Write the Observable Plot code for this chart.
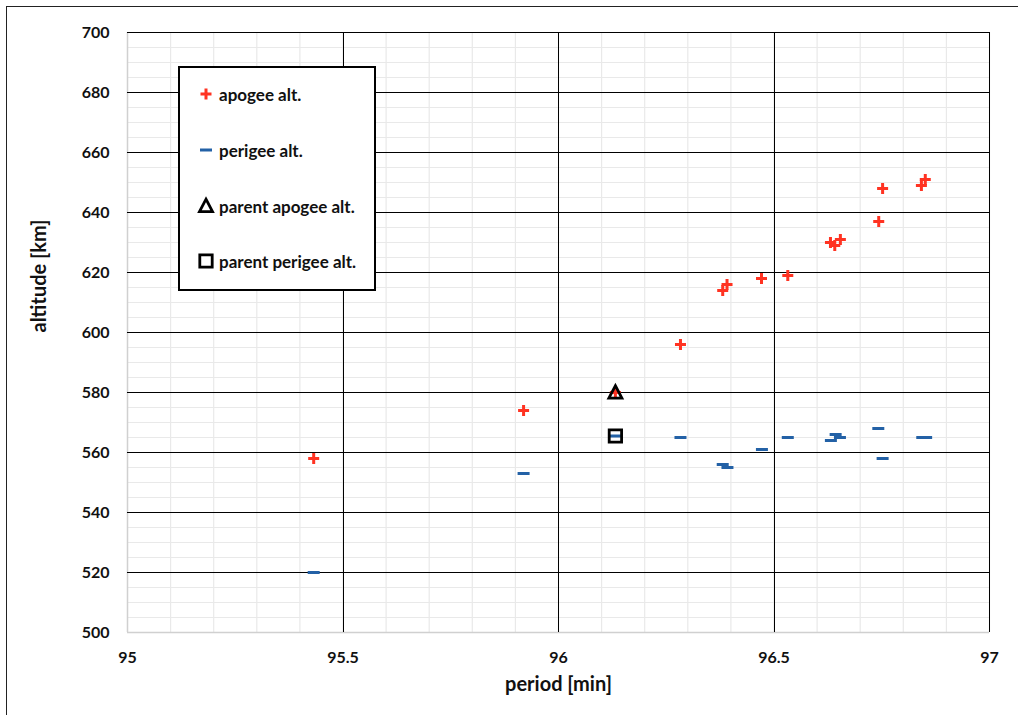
<!DOCTYPE html>
<html>
<head>
<meta charset="utf-8">
<script src="https://cdn.jsdelivr.net/npm/d3@7"></script>
<script src="https://cdn.jsdelivr.net/npm/@observablehq/plot@0.6"></script>
<style>
  html, body { margin: 0; padding: 0; background: #fff; }
  #wrap { position: relative; width: 1018px; height: 715px; overflow: hidden; font-family: Lato, sans-serif; color: #111; }
  #frame { position: absolute; left: 6px; top: 6px; width: 1030px; height: 730px; border: 1px solid #222; pointer-events: none; }
  #legend { position: absolute; left: 178px; top: 66px; width: 198px; height: 225px; box-sizing: border-box; border: 2.5px solid #000; background: #fff; }
  .row { position: absolute; left: 18px; height: 20px; display: flex; align-items: center; font-weight: bold; font-size: 17px; white-space: nowrap; }
  .row svg { width: 16px; height: 16px; margin-right: 5px; overflow: visible; }
</style>
</head>
<body>
<div id="wrap"></div>
<script>
// ---- data ----
const apogeePeriod = [95.432, 95.919, 96.132, 96.283, 96.381, 96.391, 96.471, 96.532, 96.631, 96.641, 96.654, 96.743, 96.752, 96.842, 96.851];
const apogeeAlt    = [558, 574, 580, 596, 614, 616, 618, 619, 630, 629, 631, 637, 648, 649, 651];
const perigeePeriod = [95.432, 95.919, 96.132, 96.283, 96.381, 96.392, 96.472, 96.532, 96.632, 96.643, 96.653, 96.742, 96.752, 96.844, 96.853];
const perigeeAlt    = [520, 553, 565.5, 565, 556, 555, 561, 565, 564, 566, 565, 568, 558, 565, 565];
const parentPeriod = [96.132];
const parentApogee = [580];
const parentPerigee = [565.5];

const xTicks = [95, 95.5, 96, 96.5, 97];
const yTicks = [500, 520, 540, 560, 580, 600, 620, 640, 660, 680, 700];
const xMajorGridA = [96, 97];
const xMajorGridB = [95.5, 96.5];
const yMajorGrid = [520, 540, 560, 580, 600, 620, 640, 660, 680, 700];
const xMinorGrid = d3.range(95.1, 97.0, 0.1).map(v => +v.toFixed(1));
const yMinorGrid = d3.range(505, 700, 5);

const legendLabels = ["apogee alt.", "perigee alt.", "parent apogee alt.", "parent perigee alt."];

const RED = "#ff3322", BLUE = "#2361a6";

const apogee = apogeePeriod.map((p, i) => ({period: p, alt: apogeeAlt[i]}));
const perigee = perigeePeriod.map((p, i) => ({period: p, alt: perigeeAlt[i]}));
const parentA = parentPeriod.map((p, i) => ({period: p, alt: parentApogee[i]}));
const parentP = parentPeriod.map((p, i) => ({period: p, alt: parentPerigee[i]}));

const plusSym = {draw(c) { const s = 5.5; c.moveTo(-s, 0); c.lineTo(s, 0); c.moveTo(0, -s); c.lineTo(0, s); }};
const dashSym = {draw(c) { c.moveTo(-6, 0); c.lineTo(6, 0); }};
const triSym = {draw(c) { c.moveTo(0, -6.8); c.lineTo(6.5, 5.6); c.lineTo(-6.5, 5.6); c.closePath(); }};
const sqSym = {draw(c) { c.moveTo(-6.2, -6.2); c.lineTo(6.2, -6.2); c.lineTo(6.2, 6.2); c.lineTo(-6.2, 6.2); c.closePath(); }};

const chart = Plot.plot({
  width: 1018,
  height: 715,
  marginLeft: 127,
  marginRight: 29,
  marginTop: 32,
  marginBottom: 83,
  style: {fontFamily: "Lato, sans-serif", fontSize: "16px", fontWeight: "bold", color: "#111", background: "transparent", overflow: "visible"},
  x: {domain: [95, 97], ticks: xTicks, tickFormat: d => String(d), tickSize: 0, tickPadding: 20, label: null},
  y: {domain: [500, 700], ticks: yTicks, tickFormat: d => String(d), tickSize: 0, tickPadding: 18, label: null},
  marks: [
    Plot.ruleX(xMinorGrid, {stroke: "#e9e9e9", strokeWidth: 1.2}),
    Plot.ruleY(yMinorGrid, {stroke: "#e9e9e9", strokeWidth: 1.2}),
    Plot.ruleX([95], {stroke: "#d0d0d0", strokeWidth: 1.5}),
    Plot.ruleY([500], {stroke: "#d0d0d0", strokeWidth: 1.5}),
    Plot.ruleX(xMajorGridA, {stroke: "#000", strokeWidth: 1}),
    Plot.ruleX(xMajorGridB, {stroke: "#000", strokeWidth: 1, dx: 0.5}),
    Plot.ruleY(yMajorGrid, {stroke: "#000", strokeWidth: 1}),
    Plot.axisX({ticks: xTicks, tickFormat: d => String(d), tickSize: 0, tickPadding: 19, label: null}),
    Plot.axisY({ticks: yTicks, tickFormat: d => String(d), tickSize: 0, tickPadding: 18, label: null}),
    Plot.dot(perigee, {x: "period", y: "alt", symbol: dashSym, r: 6, fill: "none", stroke: BLUE, strokeWidth: 3}),
    Plot.dot(apogee, {x: "period", y: "alt", symbol: plusSym, r: 6, fill: "none", stroke: RED, strokeWidth: 3}),
    Plot.dot(parentA, {x: "period", y: "alt", symbol: triSym, r: 6, fill: "none", stroke: "#000", strokeWidth: 2.8, strokeLinejoin: "miter"}),
    Plot.dot(parentP, {x: "period", y: "alt", symbol: sqSym, r: 6, fill: "none", stroke: "#000", strokeWidth: 2.8, strokeLinejoin: "miter"}),
    Plot.text(["period [min]"], {frameAnchor: "bottom", dy: 58, text: d => d, fontSize: 20, fontWeight: "bold", fill: "#111"}),
    Plot.text(["altitude [km]"], {frameAnchor: "left", dx: -88, rotate: -90, text: d => d, fontSize: 20, fontWeight: "bold", fill: "#111"})
  ]
});

const wrap = document.getElementById("wrap");
wrap.appendChild(chart);
const frame = document.createElement("div");
frame.id = "frame";
wrap.appendChild(frame);

// legend
const legend = document.createElement("div");
legend.id = "legend";
const rowTops = [16, 72, 128, 183];
const legendSvgs = [
  `<path d="M-5.5,0H5.5M0,-5.5V5.5" stroke="${RED}" stroke-width="3" fill="none"/>`,
  `<path d="M-6,0H6" stroke="${BLUE}" stroke-width="3" fill="none"/>`,
  `<path d="M0,-6.8L6.5,5.6L-6.5,5.6Z" stroke="#000" stroke-width="2.8" fill="none"/>`,
  `<path d="M-6.2,-6.2H6.2V6.2H-6.2Z" stroke="#000" stroke-width="2.8" fill="none"/>`
];
legendLabels.forEach((lab, i) => {
  const r = document.createElement("div");
  r.className = "row";
  r.style.top = rowTops[i] + "px";
  r.innerHTML = `<svg viewBox="-8 -8 16 16">${legendSvgs[i]}</svg><span>${lab}</span>`;
  legend.appendChild(r);
});
wrap.appendChild(legend);
</script>
</body>
</html>
